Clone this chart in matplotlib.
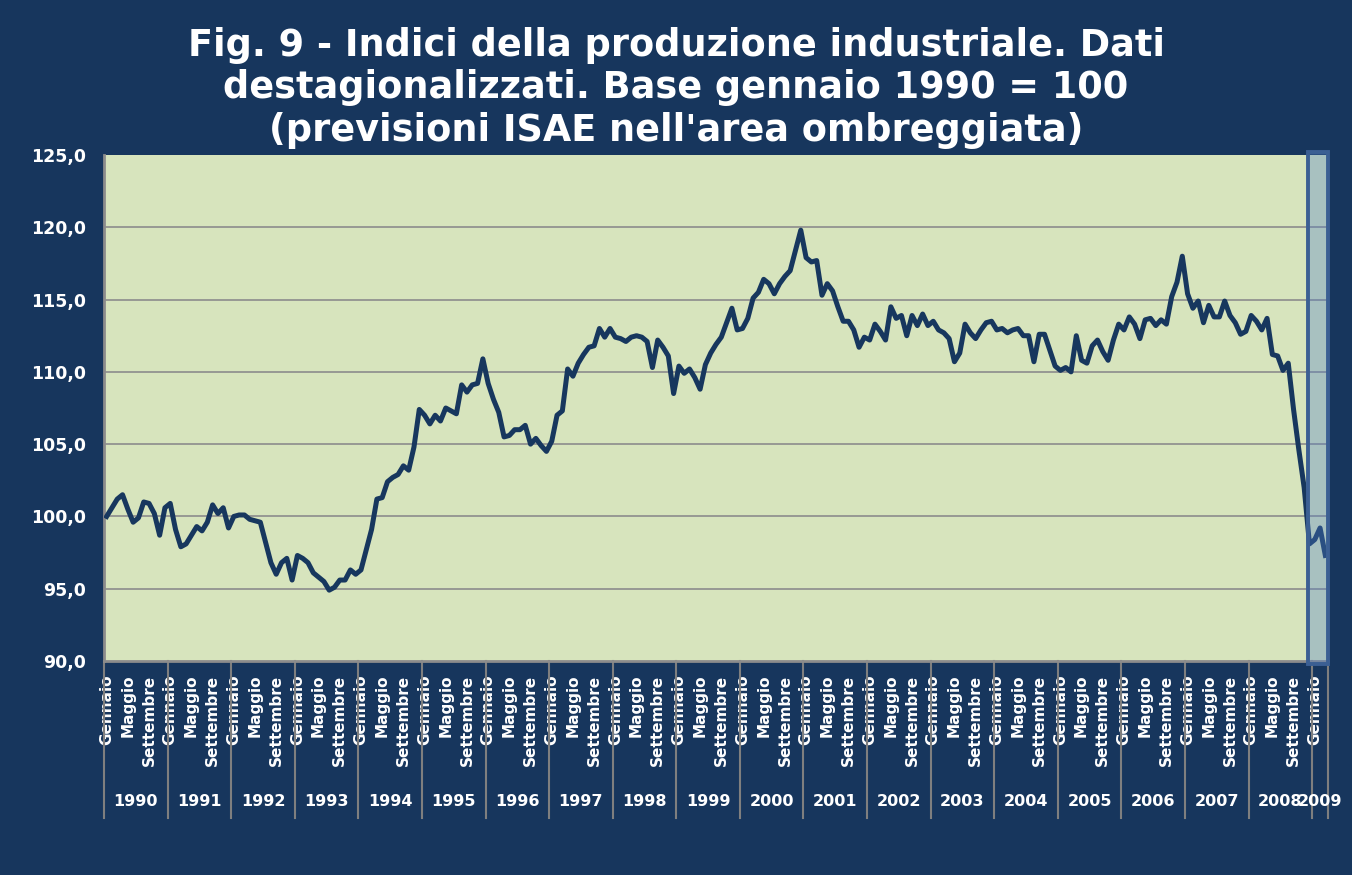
#!/usr/bin/env python3

import matplotlib
matplotlib.use("Agg")

import matplotlib.pyplot as plt
import matplotlib.transforms as mtransforms
from matplotlib.patches import Rectangle
import numpy as np

OUTPUT_FNAME = "out.png"

BG = "#17365d"
PLOT_BG = "#d7e4bd"
LINE = "#17375e"
GRID = "#8c8c8c"

TITLE = ("Fig. 9 - Indici della produzione industriale. Dati\n"
         "destagionalizzati. Base gennaio 1990 = 100\n"
         "(previsioni ISAE nell'area ombreggiata)")

years = [str(y) for y in range(1990, 2010)]
month_labels = {0: "Gennaio", 4: "Maggio", 8: "Settembre"}
y_ticks = [90, 95, 100, 105, 110, 115, 120, 125]

# monthly index, gennaio 1990 - marzo 2009
idx_1990 = [100.0, 100.6, 101.2, 101.5, 100.5, 99.6, 99.9, 101.0, 100.9, 100.2, 98.7, 100.6]
idx_1991 = [100.9, 99.1, 97.9, 98.1, 98.7, 99.3, 99.0, 99.6, 100.8, 100.2, 100.6, 99.2]
idx_1992 = [100.0, 100.1, 100.1, 99.8, 99.7, 99.6, 98.2, 96.8, 96.0, 96.8, 97.1, 95.6]
idx_1993 = [97.3, 97.1, 96.8, 96.1, 95.8, 95.5, 94.9, 95.1, 95.6, 95.6, 96.3, 96.0]
idx_1994 = [96.3, 97.7, 99.1, 101.2, 101.3, 102.4, 102.7, 102.9, 103.5, 103.2, 104.8, 107.4]
idx_1995 = [107.0, 106.4, 107.0, 106.6, 107.5, 107.3, 107.1, 109.1, 108.6, 109.1, 109.2, 110.9]
idx_1996 = [109.2, 108.1, 107.2, 105.5, 105.6, 106.0, 106.0, 106.3, 105.0, 105.4, 104.9, 104.5]
idx_1997 = [105.2, 107.0, 107.3, 110.2, 109.7, 110.6, 111.2, 111.7, 111.8, 113.0, 112.4, 113.0]
idx_1998 = [112.4, 112.3, 112.1, 112.4, 112.5, 112.4, 112.1, 110.3, 112.2, 111.7, 111.1, 108.5]
idx_1999 = [110.4, 109.9, 110.2, 109.6, 108.8, 110.5, 111.3, 111.9, 112.4, 113.4, 114.4, 112.9]
idx_2000 = [113.0, 113.7, 115.1, 115.5, 116.4, 116.1, 115.4, 116.1, 116.6, 117.0, 118.4, 119.8]
idx_2001 = [117.9, 117.6, 117.7, 115.3, 116.1, 115.6, 114.5, 113.5, 113.5, 112.9, 111.7, 112.4]
idx_2002 = [112.2, 113.3, 112.8, 112.2, 114.5, 113.7, 113.9, 112.5, 113.9, 113.2, 114.0, 113.2]
idx_2003 = [113.5, 112.9, 112.7, 112.3, 110.7, 111.3, 113.3, 112.7, 112.3, 112.9, 113.4, 113.5]
idx_2004 = [112.9, 113.0, 112.7, 112.9, 113.0, 112.5, 112.5, 110.7, 112.6, 112.6, 111.5, 110.4]
idx_2005 = [110.1, 110.3, 110.0, 112.5, 110.8, 110.6, 111.8, 112.2, 111.4, 110.8, 112.2, 113.3]
idx_2006 = [112.9, 113.8, 113.3, 112.3, 113.6, 113.7, 113.2, 113.6, 113.3, 115.2, 116.2, 118.0]
idx_2007 = [115.4, 114.4, 114.9, 113.4, 114.6, 113.8, 113.8, 114.9, 113.9, 113.4, 112.6, 112.8]
idx_2008 = [113.9, 113.5, 112.9, 113.7, 111.2, 111.1, 110.1, 110.6, 107.4, 104.6, 102.0, 98.1]
idx_2009 = [98.4, 99.2, 97.3]

# forecast (shaded) area starts in the middle of dicembre 2008
forecast_start = 227.3


def main():
    series = (idx_1990 + idx_1991 + idx_1992 + idx_1993 + idx_1994 + idx_1995
              + idx_1996 + idx_1997 + idx_1998 + idx_1999 + idx_2000 + idx_2001
              + idx_2002 + idx_2003 + idx_2004 + idx_2005 + idx_2006 + idx_2007
              + idx_2008 + idx_2009)
    data = np.array(series)
    n = len(data)
    x = np.arange(n) + 0.5

    plt.rcParams["font.family"] = "DejaVu Sans"

    fig = plt.figure(figsize=(13.52, 8.75), dpi=100, facecolor=BG)
    ax = fig.add_axes([104 / 1352, 1 - 661 / 875, (1328 - 104) / 1352, (661 - 155) / 875])
    ax.set_facecolor(PLOT_BG)

    ax.plot(x, data, color=LINE, lw=3.6, solid_joinstyle="round", zorder=3)

    ax.set_xlim(0, n)
    ax.set_ylim(90, 125)

    # grid
    ax.set_yticks(y_ticks, labels=[f"{v:.1f}".replace(".", ",") for v in y_ticks])
    for v in y_ticks[1:-1]:
        ax.axhline(v, color=GRID, lw=1.2, zorder=1)
    ax.tick_params(axis="y", length=0, pad=13, labelsize=12.5, labelcolor="white")
    for lab in ax.get_yticklabels():
        lab.set_fontweight("bold")

    for s in ["top", "right"]:
        ax.spines[s].set_visible(False)
    for s in ["left", "bottom"]:
        ax.spines[s].set_color("#8c8c8c")
        ax.spines[s].set_linewidth(2)

    # month labels
    pos, labs = [], []
    for i in range(n):
        if i % 12 in month_labels:
            pos.append(i + 0.5)
            labs.append(month_labels[i % 12])
    ax.set_xticks(pos, labels=labs, rotation=90)
    ax.tick_params(axis="x", length=0, pad=10, labelsize=11, labelcolor="white")
    for lab in ax.get_xticklabels():
        lab.set_fontweight("bold")

    # year separators and labels
    trans = mtransforms.blended_transform_factory(ax.transData, ax.transAxes)
    bottom = -(818 - 661) / 506
    for k, yr in enumerate(years):
        start = k * 12
        end = min(start + 12, n)
        ax.plot([start, start], [0, bottom], color="#7f7f7f", lw=1.5,
                transform=trans, clip_on=False)
        ax.text((start + end) / 2, -(802 - 661) / 506, yr, transform=trans,
                ha="center", va="center", color="white", fontsize=11.5,
                fontweight="bold")
    ax.plot([n, n], [0, bottom], color="#7f7f7f", lw=1.5,
            transform=trans, clip_on=False)

    # shaded forecast area
    rect = Rectangle((forecast_start, 89.8), n - forecast_start, 35.4,
                     facecolor="#4f7ec8", alpha=0.34, edgecolor="none",
                     zorder=4, clip_on=False)
    ax.add_patch(rect)
    border = Rectangle((forecast_start, 89.8), n - forecast_start, 35.4,
                       facecolor="none", edgecolor="#3b5f93", lw=2.8,
                       zorder=5, clip_on=False)
    ax.add_patch(border)

    fig.text(0.5, 1 - 88 / 875, TITLE, ha="center", va="center",
             color="white", fontsize=26.4, fontweight="bold", linespacing=1.2)

    fig.savefig(OUTPUT_FNAME, dpi=100, facecolor=BG)


if __name__ == "__main__":
    main()
